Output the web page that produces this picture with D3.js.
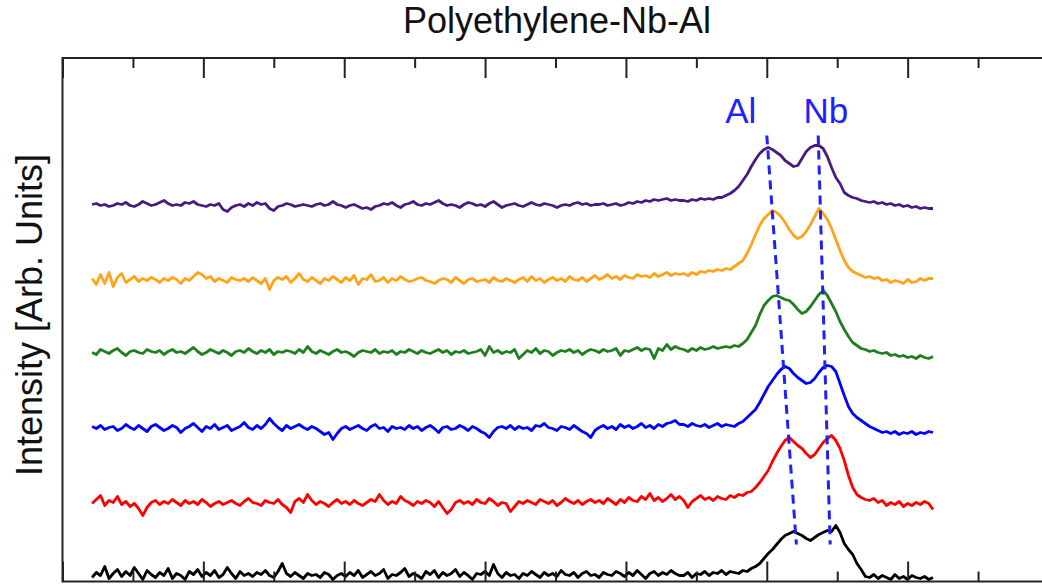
<!DOCTYPE html>
<html>
<head>
<meta charset="utf-8">
<script src="https://cdn.jsdelivr.net/npm/d3@7"></script>
<style>
  html, body { margin: 0; padding: 0; background: #fff; }
  svg { display: block; font-family: "Liberation Sans", Arial, Helvetica, sans-serif; }
</style>
</head>
<body>
<svg id="chart" width="1042" height="588"></svg>
<script>
// Stacked spectra of the Polyethylene-Nb-Al sample, one trace per measurement,
// each shifted up by its own offset. Values are in arbitrary intensity units.

// Channel grid shared by every trace
const channels = d3.range(21, 619, 3);

// Trace values (intensity above each trace's own baseline)
const black = [
  -2,3,0,9,-3,2,6,-1,4,0,8,2,-4,5,1,-2,3,0,7,-3,
  2,0,-4,4,1,6,-1,3,0,5,-2,1,8,2,-3,4,0,2,-1,3,
  1,5,0,-2,4,12,2,-1,3,0,-3,2,0,1,-2,3,1,-4,0,2,
  -1,3,0,5,-2,1,4,0,2,6,-3,1,0,3,7,-1,2,0,-3,4,
  1,5,-2,3,0,2,6,-1,3,0,-4,2,1,4,0,11,2,-2,3,0,
  1,-3,2,0,4,1,-2,3,0,2,-1,5,1,0,3,-2,2,4,0,1,
  -2,3,1,0,4,2,-1,3,0,5,1,-3,2,4,0,3,1,5,2,0,
  0,3,-2,2,1,4,0,3,2,5,1,4,3,2,5,4,7,9,12,17,
  22,26,31,36,40,42,44,42,40,37,35,38,41,43,45,44,50,43,32,26,
  21,12,6,-1,-2,1,-3,0,-2,-4,1,-3,-1,-4,0,-2,-3,-1,-4,-2
];
const red = [
  0,4,8,-2,3,1,7,-1,2,-3,0,-5,-12,-4,1,3,-1,2,0,4,
  1,-2,3,0,2,-1,4,1,-3,0,2,-1,1,3,0,-2,2,5,1,0,
  -2,3,1,0,4,-1,-4,-9,2,5,1,9,3,-1,2,0,-3,1,4,0,
  2,-1,3,0,-2,1,4,2,9,3,-1,2,0,7,3,1,-2,2,0,3,
  1,-3,2,-4,-10,-6,1,3,0,2,-1,4,1,0,5,2,-2,1,0,-8,
  -3,2,0,3,1,-1,4,2,0,3,-2,1,5,2,0,3,-1,2,4,1,
  3,0,5,2,-1,4,1,6,3,2,7,4,10,3,6,2,5,9,4,7,
  3,-4,2,5,8,4,6,3,7,5,4,8,6,9,8,11,12,16,21,27,
  33,42,50,57,63,66,62,58,55,50,46,49,55,61,65,68,63,55,43,28,
  16,9,6,4,3,5,1,3,-2,1,-1,2,-3,0,-2,1,-1,2,0,-6
];
const blue = [
  2,0,3,-1,1,2,-2,0,4,1,-1,3,0,-3,2,4,1,-2,0,3,
  1,-4,0,2,5,1,-3,2,0,4,-1,1,3,-2,0,2,6,1,-1,3,
  0,4,10,5,1,-2,3,0,2,4,1,-1,2,0,-3,-6,-4,-11,-5,0,
  2,-1,1,3,0,-2,2,4,0,1,-3,2,0,1,-1,3,0,2,-2,1,
  3,0,-4,1,2,-1,0,3,1,-2,2,0,-3,-5,-9,-3,1,2,0,3,
  -1,2,0,1,-2,3,2,5,1,0,-2,2,1,-1,3,0,-3,-5,-9,-2,
  1,3,0,2,-1,4,1,3,0,2,5,1,3,0,4,2,5,6,8,4,
  4,2,5,3,2,4,1,3,5,2,4,3,2,5,7,11,15,19,26,34,
  42,48,54,59,62,60,55,51,48,45,46,50,56,61,63,62,57,45,33,22,
  15,11,8,5,2,0,-2,-4,-3,-5,-3,-6,-4,-5,-3,-6,-4,-5,-3,-4
];
const green = [
  0,-2,3,1,-1,2,4,0,-3,1,2,0,-1,3,1,0,2,-2,1,3,
  0,1,-1,2,5,1,-2,0,3,1,-1,2,0,-3,1,2,0,4,1,-1,
  2,0,3,-2,1,0,2,1,-1,3,0,6,1,-1,2,0,-2,1,3,0,
  1,-1,-4,0,2,1,0,3,-1,1,0,2,-2,1,0,3,1,-1,2,0,
  -1,1,3,0,2,-2,1,0,2,-1,0,1,3,-3,6,0,2,-1,1,0,
  3,-6,-2,2,0,4,-1,2,1,-3,0,2,1,3,0,2,-2,1,3,2,
  0,3,1,2,4,-3,2,1,3,5,2,4,3,-6,4,2,8,3,6,4,
  3,1,4,2,5,3,4,6,4,5,6,5,7,6,9,13,20,27,38,47,
  52,56,57,55,53,52,48,43,39,41,46,52,58,62,57,49,41,31,23,16,
  10,7,4,3,1,2,0,-1,0,-3,-2,-4,-3,-5,-4,-6,-3,-5,-6,-4
];
const orange = [
  2,-4,6,-3,8,-6,3,7,-2,1,4,-1,2,0,3,1,-2,2,0,3,
  1,-3,2,0,4,8,6,2,4,-1,2,0,-2,3,1,0,2,-1,3,0,
  -3,2,-9,0,3,1,4,-2,2,7,1,-1,3,0,-3,2,0,4,1,-2,
  3,0,5,-4,2,1,6,-1,0,3,-2,2,0,4,1,-1,0,2,3,0,
  -1,-3,0,2,1,-2,3,0,-3,1,2,-1,0,1,-2,3,0,-1,2,0,
  -2,1,3,-1,4,0,2,-2,1,3,0,2,-1,4,1,0,3,-1,2,5,
  1,3,6,2,4,1,5,3,2,6,4,5,3,7,4,6,8,5,7,6,
  7,5,8,6,9,8,10,9,11,10,12,11,14,17,20,27,36,46,55,62,
  66,70,68,64,58,51,45,42,44,49,56,64,72,67,61,52,41,30,20,13,
  9,7,5,3,4,2,3,0,1,-2,0,-1,-3,1,-2,-1,2,0,2,2
];
const purple = [
  1,2,0,1,-1,0,2,1,3,0,-1,1,4,2,0,1,3,5,2,0,
  1,0,3,2,4,1,0,-1,1,0,2,-4,-6,-2,0,1,-1,2,0,3,
  1,2,-3,-5,-1,0,2,1,-1,0,1,0,-1,1,2,0,1,4,1,0,
  -2,0,1,-1,-3,-2,-4,-1,0,2,1,3,0,-2,1,2,4,1,0,2,
  1,3,5,2,0,1,0,-2,1,3,2,0,1,-1,2,4,1,-2,0,1,
  2,0,-1,1,3,1,0,2,1,0,-2,0,1,0,2,3,1,2,0,1,
  1,2,0,1,2,0,1,3,2,4,3,5,4,6,5,6,7,5,6,5,
  5,4,6,5,7,6,7,6,8,8,10,12,15,19,25,31,39,46,52,56,
  58,56,53,50,45,42,39,40,47,54,58,60,60,57,49,38,28,22,13,10,
  8,7,5,4,3,4,2,3,1,2,0,1,-1,0,-2,-1,-3,-2,-3,-3
];

// Trace order (bottom to top), colours and vertical offsets
const seriesValues  = [black, red, blue, green, orange, purple];
const seriesColors  = ["#000000", "#ff0000", "#0000ff", "#1f7f1f", "#ffa31a", "#4b1a80"];
const seriesOffsets = [6, 78, 153, 229, 301, 376];

// Axis ticks (channels)
const majorTicks = [0, 100, 200, 300, 400, 500, 600, 700];
const minorTicks = [50, 150, 250, 350, 450, 550, 650];

// Peak guide lines: channel at top and bottom, plus label
const guideLabels  = ["Al", "Nb"];
const guideTop     = [500, 536.5];
const guideBottom  = [521, 545];
const guideLabelX  = [481.5, 542];
const guideYTop    = 446;
const guideYBottom = 37;
const guideLabelY  = 459;

const svg = d3.select("#chart");
const plot = { left: 62.5, right: 1048.5, top: 58, bottom: 581.5 };

const x = d3.scaleLinear().domain([0, 700]).range([plot.left, plot.right]);
const y = d3.scaleLinear().domain([0, 523.5]).range([plot.bottom, plot.top]);

svg.append("defs").append("clipPath").attr("id", "plotClip")
  .append("rect")
  .attr("x", plot.left).attr("y", plot.top)
  .attr("width", plot.right - plot.left).attr("height", plot.bottom - plot.top);

// Traces
const line = d3.line()
  .x(d => x(d.c))
  .y(d => y(d.v));

const traces = svg.append("g").attr("clip-path", "url(#plotClip)");
seriesValues.forEach((vals, k) => {
  const pts = vals.map((v, i) => ({ c: channels[i], v: v + seriesOffsets[k] }));
  traces.append("path")
    .datum(pts)
    .attr("fill", "none")
    .attr("stroke", seriesColors[k])
    .attr("stroke-width", 2.8)
    .attr("stroke-linejoin", "round")
    .attr("d", line);
});

// Peak guides
guideLabels.forEach((lab, k) => {
  svg.append("line")
    .attr("x1", x(guideTop[k])).attr("y1", y(guideYTop))
    .attr("x2", x(guideBottom[k])).attr("y2", y(guideYBottom))
    .attr("stroke", "#1f1fff")
    .attr("stroke-width", 3)
    .attr("stroke-dasharray", "9,6");
  svg.append("text")
    .attr("x", x(guideLabelX[k])).attr("y", y(guideLabelY))
    .attr("text-anchor", "middle")
    .attr("font-size", 35)
    .attr("fill", "#1f1fff")
    .text(lab);
});

// Frame and inward ticks
const tickColor = "#222";
function drawTicks(axisFn, yPos, ticks, len) {
  const g = svg.append("g")
    .attr("transform", `translate(0,${yPos})`)
    .call(axisFn(x).tickValues(ticks).tickSize(len).tickFormat(""));
  g.select(".domain").remove();
  g.selectAll(".tick line").attr("stroke", tickColor).attr("stroke-width", 2);
}
drawTicks(d3.axisBottom, plot.top, majorTicks, 20);
drawTicks(d3.axisBottom, plot.top, minorTicks, 10);
drawTicks(d3.axisTop, plot.bottom, majorTicks, 20);
drawTicks(d3.axisTop, plot.bottom, minorTicks, 10);

svg.append("rect")
  .attr("x", plot.left).attr("y", plot.top)
  .attr("width", plot.right - plot.left).attr("height", plot.bottom - plot.top)
  .attr("fill", "none")
  .attr("stroke", tickColor)
  .attr("stroke-width", 2);

// Title and axis label
svg.append("text")
  .attr("x", 557).attr("y", 33)
  .attr("text-anchor", "middle")
  .attr("font-size", 36)
  .attr("fill", "#111")
  .text("Polyethylene-Nb-Al");

svg.append("text")
  .attr("transform", "translate(42,315) rotate(-90)")
  .attr("text-anchor", "middle")
  .attr("font-size", 36)
  .attr("fill", "#111")
  .text("Intensity [Arb. Units]");
</script>
</body>
</html>
